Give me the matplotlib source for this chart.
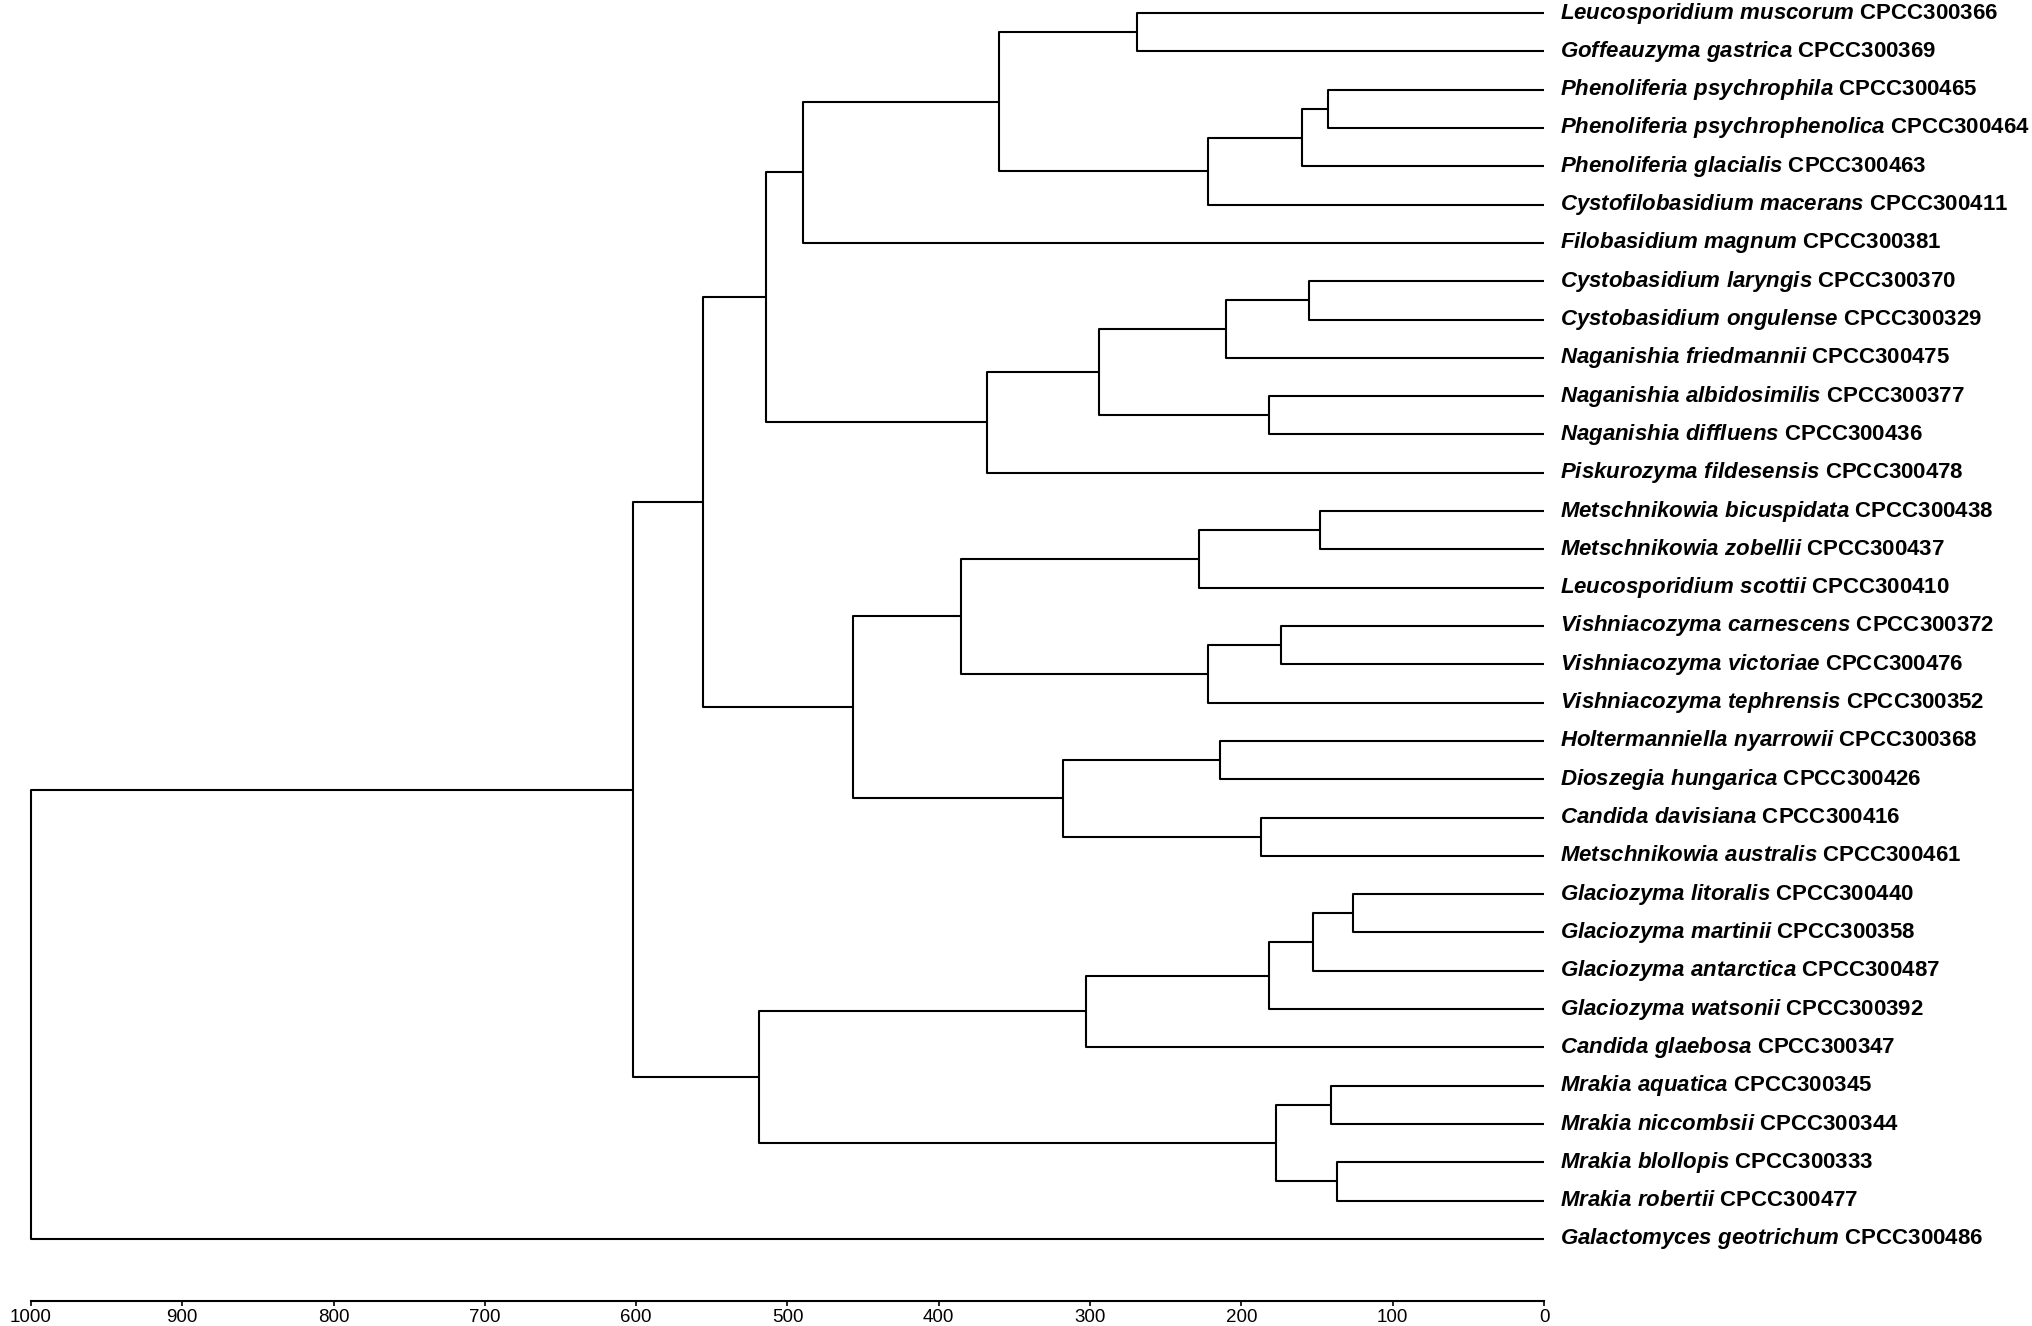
import matplotlib
matplotlib.use('Agg')
import matplotlib.pyplot as plt

plt.rcParams['font.family'] = ['Liberation Sans', 'DejaVu Sans']
plt.rcParams['mathtext.fontset'] = 'custom'
plt.rcParams['mathtext.it'] = 'Liberation Sans:italic:bold'
plt.rcParams['mathtext.rm'] = 'Liberation Sans:bold'

# leaf order, top to bottom
species = ['Leucosporidium muscorum', 'Goffeauzyma gastrica', 'Phenoliferia psychrophila',
           'Phenoliferia psychrophenolica', 'Phenoliferia glacialis', 'Cystofilobasidium macerans',
           'Filobasidium magnum', 'Cystobasidium laryngis', 'Cystobasidium ongulense',
           'Naganishia friedmannii', 'Naganishia albidosimilis', 'Naganishia diffluens',
           'Piskurozyma fildesensis', 'Metschnikowia bicuspidata', 'Metschnikowia zobellii',
           'Leucosporidium scottii', 'Vishniacozyma carnescens', 'Vishniacozyma victoriae',
           'Vishniacozyma tephrensis', 'Holtermanniella nyarrowii', 'Dioszegia hungarica',
           'Candida davisiana', 'Metschnikowia australis', 'Glaciozyma litoralis',
           'Glaciozyma martinii', 'Glaciozyma antarctica', 'Glaciozyma watsonii',
           'Candida glaebosa', 'Mrakia aquatica', 'Mrakia niccombsii', 'Mrakia blollopis',
           'Mrakia robertii', 'Galactomyces geotrichum']
strains = ['CPCC300366', 'CPCC300369', 'CPCC300465', 'CPCC300464', 'CPCC300463', 'CPCC300411',
           'CPCC300381', 'CPCC300370', 'CPCC300329', 'CPCC300475', 'CPCC300377', 'CPCC300436',
           'CPCC300478', 'CPCC300438', 'CPCC300437', 'CPCC300410', 'CPCC300372', 'CPCC300476',
           'CPCC300352', 'CPCC300368', 'CPCC300426', 'CPCC300416', 'CPCC300461', 'CPCC300440',
           'CPCC300358', 'CPCC300487', 'CPCC300392', 'CPCC300347', 'CPCC300345', 'CPCC300344',
           'CPCC300333', 'CPCC300477', 'CPCC300486']

# merges like a linkage table: child a, child b, height
# ids 0..32 are leaves, 33.. are the merges in this order
merge_a = [0, 2, 34, 35, 33, 37, 7, 39, 10, 40, 42, 38, 13, 45, 16, 47, 46, 19, 21, 50, 49, 44,
           23, 55, 56, 57, 28, 30, 59, 58, 54, 63]
merge_b = [1, 3, 4, 5, 36, 6, 8, 9, 11, 41, 12, 43, 14, 15, 17, 18, 48, 20, 22, 51, 52, 53,
           24, 25, 26, 27, 29, 31, 60, 61, 62, 32]
heights = [269, 143, 160, 222, 360, 490, 155, 210, 182, 294, 368, 514, 148, 228, 174, 222, 385,
           214, 187, 318, 457, 556, 126, 153, 182, 303, 141, 137, 177, 519, 602, 1000]

xticks = [1000, 900, 800, 700, 600, 500, 400, 300, 200, 100, 0]

fig = plt.figure(figsize=(20.32, 13.26), dpi=100)
ax = fig.add_axes([31 / 2032, 1 - 1301 / 1326, 1513 / 2032, 1301 / 1326])

n = len(species)
node_x = [0.0] * n
node_y = [float(i) for i in range(n)]
for a, b, h in zip(merge_a, merge_b, heights):
    ax.plot([node_x[a], h, h, node_x[b]], [node_y[a], node_y[a], node_y[b], node_y[b]],
            color='black', lw=1.5, solid_capstyle='butt', clip_on=False)
    node_x.append(h)
    node_y.append((node_y[a] + node_y[b]) / 2)

for i in range(n):
    txt = r'$\mathit{' + species[i].replace(' ', r'\ ') + '}$ ' + strains[i]
    ax.annotate(txt, xy=(0, i), xytext=(11.5, 0), textcoords='offset points',
                ha='left', va='center', fontsize=16, fontweight='bold', annotation_clip=False)

ax.set_xlim(1000, 0)
ax.set_ylim(33.62, -0.34)
for s in ['top', 'left', 'right']:
    ax.spines[s].set_visible(False)
ax.spines['bottom'].set_linewidth(1.5)
ax.set_yticks([])
ax.set_xticks(xticks)
ax.set_xticklabels([str(t) for t in xticks])
ax.tick_params(axis='x', direction='out', length=3.5, width=1.2, pad=2, labelsize=13.5)

fig.savefig('out.png', dpi=100, facecolor='white')
